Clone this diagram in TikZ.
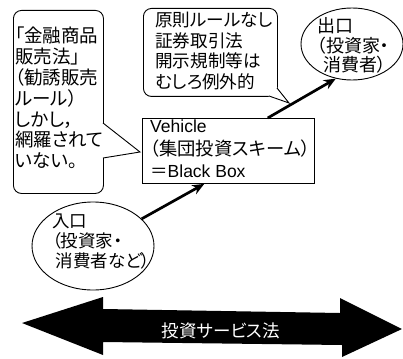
\documentclass[tikz,border=0pt]{standalone}
\usepackage{fontspec}
\setmainfont{Liberation Sans}
\newfontfamily\jp[RawFeature=+palt]{Noto Sans CJK JP}
\usetikzlibrary{shapes.geometric,arrows.meta,calc}
\begin{document}
\begin{tikzpicture}[x=1pt,y=-1pt,
  jt/.style={font=\jp\fontsize{18.5}{20.8}\selectfont, align=left, inner sep=0pt, anchor=north west},
  callout/.style={draw, line width=0.9pt, rounded corners=8pt, fill=white, anchor=north west, inner sep=0pt},
  ptr/.style={line width=0.9pt, line join=miter},
  oval/.style={draw, ellipse, line width=0.9pt, inner sep=0pt},
  flow/.style={line width=2.7pt, -{Stealth[length=12pt,width=10pt]}},
]
\useasboundingbox (0,0) rectangle (403,358);

% left callout
\node[callout, minimum width=90pt, minimum height=183pt] (lc) at (13,10) {};
\fill[white] (102.2,123) -- (140,152) -- (102.2,158) -- cycle;
\draw[ptr] (103,123) -- (140,152) -- (103,158);
\node[jt] (lct) at (15,27) {「金融商品\\販売法」\\（勧誘販売\\ルール）\\しかし，\\網羅されて\\いない。};

% top callout
\node[callout, minimum width=134pt, minimum height=88pt] (tc) at (143,8) {};
\fill[white] (277.6,87.6) -- (289,103) -- (268.6,96.6) -- cycle;
\draw[ptr] (277,88) -- (289,103) -- (269,96);
\node[jt, font=\jp\fontsize{17.6}{20.6}\selectfont] (tct) at (155,12) {原則ルールなし\\証券取引法\\開示規制等は\\むしろ例外的};

% vehicle box
\node[draw, line width=0.9pt, anchor=north west, inner sep=0pt, minimum width=172pt, minimum height=65pt] (veh) at (142,118) {};
\node[align=left, inner sep=0pt, anchor=north west, font=\fontsize{17.5}{22.5}\selectfont] (veht) at (150,120)
  {Vehicle\\{\jp\fontsize{18.3}{22.5}\selectfont （集団投資スキーム）}\\{\jp ＝}Black Box};

% exit
\node[oval, minimum width=102pt, minimum height=72pt] (exit) at (352,44) {};
\node[jt, font=\jp\fontsize{18}{19.8}\selectfont] (exitt) at (317,17) {出口\\（投資家・\\\hspace{0.35em}消費者）};

% entry
\node[oval, minimum width=122pt, minimum height=88pt] (entry) at (93,246) {};
\node[jt, font=\jp\fontsize{17.5}{20}\selectfont] (entryt) at (52,214) {入口\\（投資家・\\\hspace{0.2em}消費者など）};

% flows
\coordinate (t1) at ($(veh.south west)!0.36!(veh.south east)$);
\coordinate (s2) at ($(veh.north west)!0.727!(veh.north east)$);
\draw[flow] (entry) -- (t1);
\draw[flow] (s2) -- (exit.245);

% big double arrow
\fill[black] (22,323) -- (103,297) -- (103,309) -- (340,313) -- (340,298) -- (402,329)
  -- (342,357) -- (342,345) -- (103,342) -- (103,355) -- cycle;
\node[text=white, inner sep=0pt, font=\jp\fontsize{17.5}{20}\selectfont] (law) at (221,331) {投資サービス法};
\end{tikzpicture}
\end{document}
